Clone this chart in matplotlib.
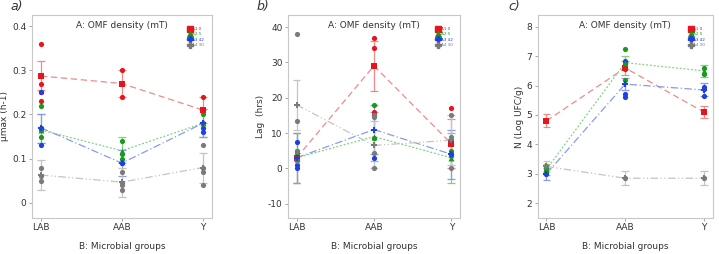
import matplotlib
matplotlib.use("Agg")
import matplotlib.pyplot as plt

groups = ["LAB", "AAB", "Y"]
legend_labels = ["A1 0", "A2 5", "A3 42", "A4 30"]
colors = ["#e8141b", "#1a9a1a", "#1f3fe0", "#7a7a7a"]
line_colors = ["#f08a8a", "#7fd27f", "#8a9af0", "#c4c4c4"]
line_styles = [(0, (5, 3)), (0, (1.5, 1.5)), (0, (6, 2, 1, 2)), (0, (6, 2, 1, 2, 1, 2))]
mean_markers = ["s", "^", "P", "P"]

# panel a: umax
mu_mean = [[0.287, 0.27, 0.21], [0.165, 0.118, 0.18], [0.17, 0.09, 0.18], [0.063, 0.047, 0.08]]
mu_lo = [[0.255, 0.24, 0.18], [0.135, 0.09, 0.15], [0.135, 0.06, 0.15], [0.03, 0.014, 0.046]]
mu_hi = [[0.32, 0.30, 0.24], [0.2, 0.148, 0.213], [0.2, 0.12, 0.213], [0.096, 0.08, 0.113]]
mu_pts = [
    [[0.36, 0.27, 0.25, 0.23], [0.30, 0.27, 0.24], [0.24, 0.21]],
    [[0.22, 0.15, 0.165], [0.14, 0.11, 0.10], [0.20, 0.18]],
    [[0.25, 0.17, 0.13], [0.09, 0.09], [0.21, 0.17, 0.16]],
    [[0.08, 0.06, 0.05], [0.07, 0.045, 0.04, 0.03], [0.13, 0.08, 0.07, 0.04]],
]

# panel b: lag
lag_mean = [[3, 29, 7], [3, 9, 3], [3, 11, 4], [18, 6.5, 8]]
lag_lo = [[-4, 22, 0], [-4, 2, -4], [-4, 4, -3], [11, 0, 1]]
lag_hi = [[10, 36, 14], [10, 16, 10], [10, 18, 11], [25, 13.5, 15]]
lag_pts = [
    [[3], [37, 34, 16], [17, 7]],
    [[5, 4.5], [18, 8.5], [5, 3.5]],
    [[7.5, 1, 0], [15, 3], [7, 4]],
    [[38, 13.5, 5, 2], [15, 14.5, 4.5, 0], [15, 9, 0]],
]

# panel c: N
n_mean = [[4.8, 6.6, 5.1], [3.15, 6.78, 6.5], [3.0, 6.05, 5.85], [3.25, 2.85, 2.85]]
n_lo = [[4.6, 6.35, 4.9], [2.95, 6.55, 6.3], [2.8, 5.85, 5.65], [3.05, 2.62, 2.62]]
n_hi = [[5.05, 6.85, 5.3], [3.35, 7.0, 6.7], [3.2, 6.25, 6.08], [3.45, 3.1, 3.1]]
n_pts = [
    [[4.8], [6.75, 6.55], [5.1]],
    [[3.2, 3.1], [7.25, 6.2], [6.6, 6.4]],
    [[3.0], [6.85, 5.7, 5.6], [5.95, 5.9, 5.65]],
    [[3.25], [2.85], [2.85]],
]

panels = [
    ("a)", "µmax (h-1)", mu_mean, mu_lo, mu_hi, mu_pts, (-0.034, 0.425), [0, 0.1, 0.2, 0.3, 0.4], ["0", "0.1", "0.2", "0.3", "0.4"]),
    ("b)", "Lag  (hrs)", lag_mean, lag_lo, lag_hi, lag_pts, (-14, 43.4), [-10, 0, 10, 20, 30, 40], ["-10", "0", "10", "20", "30", "40"]),
    ("c)", "N (Log UFC/g)", n_mean, n_lo, n_hi, n_pts, (1.5, 8.4), [2, 3, 4, 5, 6, 7, 8], ["2", "3", "4", "5", "6", "7", "8"]),
]
lefts = [0.0445, 0.4006, 0.748]
widths = [0.25, 0.239, 0.243]
tag_x = [-0.05, -0.11, -0.1]

fig = plt.figure(figsize=(7.19, 2.54), dpi=100)
x = [0, 1, 2]
for p, (tag, ylab, means, lo, hi, pts, ylim, yt, ytl) in enumerate(panels):
    ax = fig.add_axes([lefts[p], 0.142, widths[p], 0.799])
    for s in range(4):
        ax.plot(x, means[s], color=line_colors[s], ls=line_styles[s], lw=0.9, zorder=2)
        for i in range(3):
            ax.vlines(x[i], lo[s][i], hi[s][i], color=line_colors[s], lw=0.9, zorder=2)
            ax.hlines([lo[s][i], hi[s][i]], x[i] - 0.05, x[i] + 0.05, color=line_colors[s], lw=0.9, zorder=2)
            ax.scatter([x[i]] * len(pts[s][i]), pts[s][i], color=colors[s], s=14, zorder=3, lw=0)
        ax.scatter(x, means[s], color=colors[s], marker=mean_markers[s], s=18, zorder=4, lw=0)
    ax.set_xlim(-0.11, 2.11)
    ax.set_ylim(*ylim)
    ax.set_xticks(x)
    ax.set_xticklabels(groups, fontsize=6.5, color="#333333")
    ax.set_yticks(yt)
    ax.set_yticklabels(ytl, fontsize=6.5, color="#333333")
    ax.tick_params(length=2, width=0.6, color="#999999", pad=2)
    for sp in ax.spines.values():
        sp.set_color("#c8c8c8")
        sp.set_linewidth(0.8)
    ax.set_ylabel(ylab, fontsize=6.5, color="#333333", labelpad=2)
    ax.set_xlabel("B: Microbial groups", fontsize=6.5, color="#333333", labelpad=7)
    ax.text(0.5, 0.95, "A: OMF density (mT)", transform=ax.transAxes, ha="center", va="center",
            fontsize=6.5, color="#333333")
    ax.text(tag_x[p], 1.04, tag, transform=ax.transAxes, ha="right", va="center", fontsize=9,
            style="italic", color="#333333")
    handles = [plt.Line2D([], [], color=colors[s], marker=mean_markers[s], ls="none", markersize=4)
               for s in range(4)]
    leg = ax.legend(handles, legend_labels, loc="upper right", bbox_to_anchor=(0.97, 0.95), frameon=False,
                    fontsize=3, handletextpad=0.1, labelspacing=0.3, borderpad=0, handlelength=1)
    for t, c in zip(leg.get_texts(), colors):
        t.set_color(c)

fig.savefig("out.png", dpi=100)
